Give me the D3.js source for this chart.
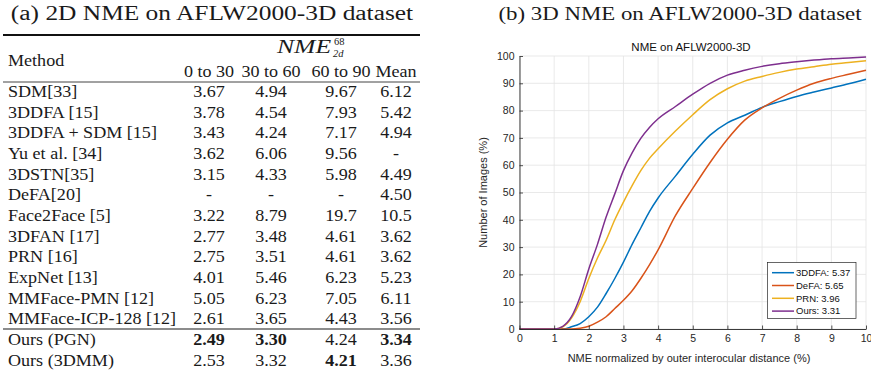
<!DOCTYPE html>
<html>
<head>
<meta charset="utf-8">
<script src="https://cdn.jsdelivr.net/npm/d3@7"></script>
<style>
body { margin: 0; background: #fff; }
</style>
</head>
<body>
<script>

// ---- (a) table values ----
var methods = ["SDM[33]", "3DDFA [15]", "3DDFA + SDM [15]", "Yu et al. [34]", "3DSTN[35]",
    "DeFA[20]", "Face2Face [5]", "3DFAN [17]", "PRN [16]", "ExpNet [13]",
    "MMFace-PMN [12]", "MMFace-ICP-128 [12]", "Ours (PGN)", "Ours (3DMM)"];
var nme0to30  = ["3.67", "3.78", "3.43", "3.62", "3.15", "-", "3.22", "2.77", "2.75", "4.01", "5.05", "2.61", "2.49", "2.53"];
var nme30to60 = ["4.94", "4.54", "4.24", "6.06", "4.33", "-", "8.79", "3.48", "3.51", "5.46", "6.23", "3.65", "3.30", "3.32"];
var nme60to90 = ["9.67", "7.93", "7.17", "9.56", "5.98", "-", "19.7", "4.61", "4.61", "6.23", "7.05", "4.43", "4.24", "4.21"];
var nmeMean   = ["6.12", "5.42", "4.94", "-", "4.49", "4.50", "10.5", "3.62", "3.62", "5.23", "6.11", "3.56", "3.34", "3.36"];
var colHeads = ["0 to 30", "30 to 60", "60 to 90", "Mean"];
var boldCells = ["12-0", "12-1", "12-3", "13-2"];

// ---- (b) cumulative error curves ----
var nmeX     = [0, 1, 1.25, 1.5, 1.75, 2, 2.25, 2.5, 2.75, 3, 3.25, 3.5, 3.75, 4, 4.5, 5, 5.5, 6, 6.5, 7, 7.5, 8, 8.5, 9, 9.5, 10];
var ddfaPct  = [0, 0, 0, 0.8, 2, 4.5, 8, 13, 18.5, 24.5, 31, 37, 43, 48, 56, 64, 71, 75.5, 78.3, 81.2, 83.3, 85.2, 86.8, 88.3, 89.8, 91.5];
var defaPct  = [0, 0, 0, 0, 0.3, 1, 2.5, 4.5, 7.5, 10.5, 14, 18.5, 23.5, 29, 41.5, 51.5, 61, 69.5, 76.5, 81, 84.5, 87.5, 90, 91.8, 93.3, 94.8];
var prnPct   = [0, 0, 0.8, 4, 10, 18.5, 26, 32.5, 40, 46.5, 52.5, 58, 62.5, 66, 72.5, 78.5, 84, 88, 90.8, 92.5, 94, 95.2, 96.1, 97, 97.6, 98.3];
var oursPct  = [0, 0, 1, 4.5, 11.8, 22, 31, 41, 49.5, 58, 64.5, 69.8, 73.8, 77, 81.5, 86, 90, 93, 94.8, 96.2, 97.2, 97.9, 98.5, 99, 99.3, 99.6];
var legendLabels = ["3DDFA: 5.37", "DeFA: 5.65", "PRN: 3.96", "Ours: 3.31"];
var lineColors = ["#0072bd", "#d95319", "#edb120", "#7e2f8e"];
var xTicks = d3.range(0, 11, 1);
var yTicks = d3.range(0, 101, 10);

var svg = d3.select("body").append("svg")
    .attr("width", 871)
    .attr("height", 370);

// serif text, stretched a bit to get closer to computer modern widths
function serif(g, x, y, str, size, sx, anchor) {
    return g.append("text")
        .attr("transform", "translate(" + x + "," + y + ") scale(" + sx + ",1)")
        .attr("font-family", "Liberation Serif, serif")
        .attr("font-size", size)
        .attr("text-anchor", anchor || "start")
        .attr("fill", "#1a1a1a")
        .text(str);
}

// ===== table =====
var tab = svg.append("g");
serif(tab, 212, 20, "(a) 2D NME on AFLW2000-3D dataset", 20, 1.27, "middle");

var rowY = d3.scaleLinear().domain([0, methods.length - 1]).range([91.5, 360]);
var colX = d3.scaleOrdinal().domain([0, 1, 2, 3]).range([209, 271, 341, 396]);
var cols = [nme0to30, nme30to60, nme60to90, nmeMean];

tab.append("line").attr("x1", 3).attr("x2", 420).attr("y1", 35).attr("y2", 35)
    .attr("stroke", "#111").attr("stroke-width", 1.8);
tab.append("line").attr("x1", 3).attr("x2", 420).attr("y1", 82).attr("y2", 82)
    .attr("stroke", "#444").attr("stroke-width", 1);
tab.append("line").attr("x1", 3).attr("x2", 420).attr("y1", (rowY(11) + rowY(12)) / 2).attr("y2", (rowY(11) + rowY(12)) / 2)
    .attr("stroke", "#666").attr("stroke-width", 1.3);

serif(tab, 8, 66, "Method", 16, 1.13);

// NME^68_2d header
var nme = tab.append("g").attr("font-family", "Liberation Serif, serif").attr("fill", "#1a1a1a");
nme.append("text")
    .attr("transform", "translate(277,53) scale(1.35,1)")
    .attr("font-size", 19)
    .attr("font-style", "italic")
    .text("NME");
nme.append("text").attr("x", 334).attr("y", 45).attr("font-size", 10.5).text("68");
nme.append("text").attr("x", 333).attr("y", 57).attr("font-size", 10.5).attr("font-style", "italic").text("2d");

colHeads.forEach(function(h, i) {
    serif(tab, colX(i), 77, h, 16, 1.13, "middle");
});

methods.forEach(function(m, r) {
    serif(tab, 8, rowY(r) + 5.5, m, 16, 1.13);
    cols.forEach(function(c, i) {
        var t = serif(tab, colX(i), rowY(r) + 5.5, c[r], 16, 1.13, "middle");
        if (boldCells.indexOf(r + "-" + i) >= 0) t.attr("font-weight", "bold");
    });
});

// ===== chart =====
serif(svg, 680, 20, "(b) 3D NME on AFLW2000-3D dataset", 18, 1.27, "middle");

var x = d3.scaleLinear().domain([0, 10]).range([519.5, 866]);
var y = d3.scaleLinear().domain([0, 100]).range([329, 56]);
var axisColor = "#262626";

var grid = svg.append("g");
grid.selectAll(".gx").data(xTicks).enter().append("line")
    .attr("x1", function(d) { return x(d); }).attr("x2", function(d) { return x(d); })
    .attr("y1", y(0)).attr("y2", y(100))
    .attr("stroke", "#e3e3e3").attr("stroke-width", 0.8);
grid.selectAll(".gy").data(yTicks).enter().append("line")
    .attr("x1", x(0)).attr("x2", x(10))
    .attr("y1", function(d) { return y(d); }).attr("y2", function(d) { return y(d); })
    .attr("stroke", "#e3e3e3").attr("stroke-width", 0.8);

var series = [ddfaPct, defaPct, prnPct, oursPct];
var line = d3.line()
    .x(function(d) { return x(d[0]); })
    .y(function(d) { return y(d[1]); })
    .curve(d3.curveMonotoneX);

svg.append("g").selectAll("path")
    .data(series)
    .enter().append("path")
    .attr("d", function(s) { return line(d3.zip(nmeX, s)); })
    .attr("fill", "none")
    .attr("stroke", function(d, i) { return lineColors[i]; })
    .attr("stroke-width", 1.5);

var xAxis = svg.append("g")
    .attr("transform", "translate(0," + y(0) + ")")
    .call(d3.axisBottom(x).tickValues(xTicks).tickSize(-3.5).tickSizeOuter(0).tickPadding(6));
var yAxis = svg.append("g")
    .attr("transform", "translate(" + x(0) + ",0)")
    .call(d3.axisLeft(y).tickValues(yTicks).tickSize(-3.5).tickSizeOuter(0).tickPadding(5));

[xAxis, yAxis].forEach(function(a) {
    a.select(".domain").attr("stroke", axisColor).attr("stroke-width", 0.9);
    a.selectAll(".tick line").attr("stroke", axisColor).attr("stroke-width", 0.8);
    a.selectAll(".tick text")
        .attr("fill", axisColor)
        .attr("font-family", "Liberation Sans, Arial, sans-serif")
        .attr("font-size", 10.5);
});

svg.append("text")
    .attr("x", 691).attr("y", 50.5)
    .attr("text-anchor", "middle")
    .attr("font-family", "Liberation Sans, Arial, sans-serif")
    .attr("font-size", 11.5)
    .attr("fill", "#111")
    .text("NME on AFLW2000-3D");

svg.append("text")
    .attr("x", 689).attr("y", 361.5)
    .attr("text-anchor", "middle")
    .attr("font-family", "Liberation Sans, Arial, sans-serif")
    .attr("font-size", 11)
    .attr("fill", axisColor)
    .text("NME normalized by outer interocular distance (%)");

svg.append("text")
    .attr("transform", "translate(487,192.5) rotate(-90)")
    .attr("text-anchor", "middle")
    .attr("font-family", "Liberation Sans, Arial, sans-serif")
    .attr("font-size", 11)
    .attr("fill", axisColor)
    .text("Number of Images (%)");

// legend
var leg = svg.append("g");
leg.append("rect")
    .attr("x", 767.5).attr("y", 262.5)
    .attr("width", 88.5).attr("height", 56)
    .attr("fill", "#fff")
    .attr("stroke", axisColor)
    .attr("stroke-width", 0.7);
var items = leg.selectAll(".item").data(legendLabels).enter().append("g")
    .attr("transform", function(d, i) { return "translate(0," + (272.7 + i * 12.8) + ")"; });
items.append("line")
    .attr("x1", 772).attr("x2", 794)
    .attr("stroke", function(d, i) { return lineColors[i]; })
    .attr("stroke-width", 1.5);
items.append("text")
    .attr("x", 796).attr("dy", "0.35em")
    .attr("font-family", "Liberation Sans, Arial, sans-serif")
    .attr("font-size", 9.5)
    .attr("fill", "#111")
    .text(function(d) { return d; });

</script>
</body>
</html>
